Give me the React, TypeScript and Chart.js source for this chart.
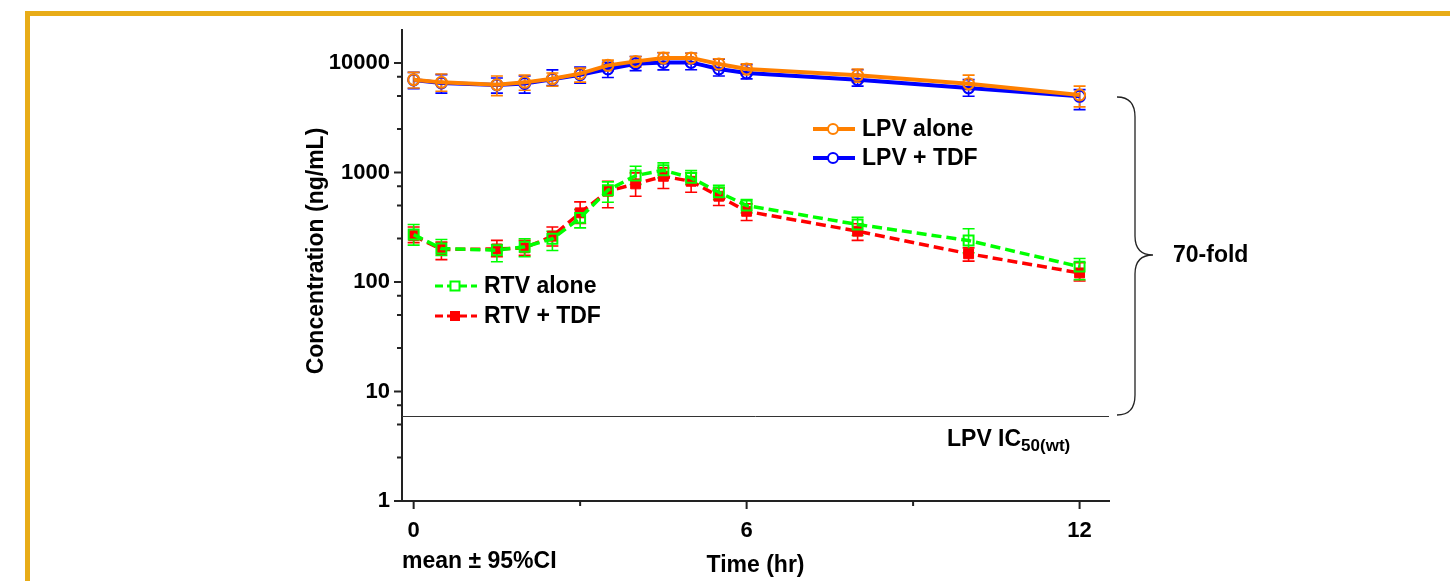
import React, { useEffect, useRef } from 'react';
import { Chart, registerables } from 'chart.js';

Chart.register(...registerables);

const FONT = "'Liberation Sans', Arial, Helvetica, sans-serif";

// Time points (hr)
const times = [0, 0.5, 1.5, 2, 2.5, 3, 3.5, 4, 4.5, 5, 5.5, 6, 8, 10, 12];

// LPV alone
const lpvAlone = [7040, 6650, 6340, 6650, 7190, 7990, 9510, 10340, 11120, 11120, 9790, 8820, 7710, 6470, 5100];
const lpvAloneLo = [5900, 5510, 5030, 5630, 6140, 6690, 8520, 9170, 9850, 9850, 8650, 7820, 6690, 5710, 3970];
const lpvAloneHi = [8200, 7940, 7600, 7760, 8110, 8980, 10610, 11470, 12460, 12270, 10930, 9850, 8820, 7750, 6140];

// LPV + TDF
const lpvTdf = [7000, 6570, 6300, 6500, 7100, 7820, 8820, 9850, 10120, 10120, 8820, 8110, 7040, 5920, 4960];
const lpvTdfLo = [5830, 5300, 5300, 5300, 6230, 6530, 7370, 8520, 8650, 8680, 7600, 7160, 6140, 4960, 3750];
const lpvTdfHi = [8210, 7820, 7300, 7600, 8650, 9170, 10160, 11470, 12380, 12270, 10840, 9640, 8680, 7040, 5710];

// RTV alone
const rtvAlone = [271, 202, 195, 210, 248, 385, 688, 937, 1047, 893, 660, 499, 335, 239, 138];
const rtvAloneLo = [217, 175, 153, 170, 194, 312, 535, 776, 893, 776, 566, 428, 266, 185, 105];
const rtvAloneHi = [335, 244, 220, 248, 291, 459, 820, 1140, 1224, 1040, 764, 566, 390, 306, 164];

// RTV + TDF
const rtvTdf = [265, 198, 200, 205, 262, 428, 674, 787, 923, 831, 607, 442, 291, 181, 121];
const rtvTdfLo = [229, 160, 170, 175, 213, 342, 476, 607, 713, 660, 499, 364, 240, 155, 102];
const rtvTdfHi = [318, 231, 240, 240, 318, 539, 831, 991, 1101, 991, 723, 517, 340, 205, 150];

// Axis ticks
const xTicks = [0, 3, 6, 9, 12];
const xLabelled = [0, 6, 12];
const yMajor = [1, 10, 100, 1000, 10000];
const yMinorMult = [2.5, 5, 7.5];
const ic50Value = 6;

const ORANGE = '#FF8000';
const BLUE = '#0000FF';
const GREEN = '#00FF00';
const RED = '#FF0000';

const errLo = [lpvAloneLo, lpvTdfLo, rtvAloneLo, rtvTdfLo];
const errHi = [lpvAloneHi, lpvTdfHi, rtvAloneHi, rtvTdfHi];
const colors = [ORANGE, BLUE, GREEN, RED];

function pts(vals: number[]) {
  return times.map((t, i) => ({ x: t, y: vals[i] }));
}

export default function App() {
  const ref = useRef<HTMLCanvasElement | null>(null);

  useEffect(() => {
    if (!ref.current) return;

    const decor = {
      id: 'decor',
      beforeDraw(chart: any) {
        const ctx = chart.ctx;
        ctx.save();
        ctx.fillStyle = '#FFFFFF';
        ctx.fillRect(0, 0, chart.width, chart.height);
        ctx.fillStyle = '#E8AC18';
        ctx.fillRect(25, 11, chart.width - 25, 5);
        ctx.fillRect(25, 11, 5, chart.height - 11);
        ctx.restore();
      },
      beforeDatasetsDraw(chart: any) {
        const ctx = chart.ctx;
        const xs = chart.scales.x;
        const ys = chart.scales.y;
        ctx.save();
        // IC50 line
        const yy = Math.round(ys.getPixelForValue(ic50Value)) + 0.5;
        ctx.strokeStyle = '#333';
        ctx.lineWidth = 1;
        ctx.beginPath();
        ctx.moveTo(chart.chartArea.left, yy);
        ctx.lineTo(chart.chartArea.right, yy);
        ctx.stroke();
        // error bars (draw in reverse so dataset 0 on top)
        for (let d = 3; d >= 0; d--) {
          ctx.strokeStyle = colors[d];
          ctx.lineWidth = 1.6;
          for (let i = 0; i < times.length; i++) {
            const x = xs.getPixelForValue(times[i]);
            const y1 = ys.getPixelForValue(errLo[d][i]);
            const y2 = ys.getPixelForValue(errHi[d][i]);
            ctx.beginPath();
            ctx.moveTo(x, y1);
            ctx.lineTo(x, y2);
            ctx.moveTo(x - 6, y1);
            ctx.lineTo(x + 6, y1);
            ctx.moveTo(x - 6, y2);
            ctx.lineTo(x + 6, y2);
            ctx.stroke();
          }
        }
        ctx.restore();
      },
      afterDraw(chart: any) {
        const ctx = chart.ctx;
        const xs = chart.scales.x;
        const ys = chart.scales.y;
        const area = chart.chartArea;
        ctx.save();
        // tick marks
        ctx.strokeStyle = '#222';
        ctx.lineWidth = 2;
        ctx.beginPath();
        yMajor.forEach((v) => {
          const y = ys.getPixelForValue(v);
          ctx.moveTo(area.left - 8, y);
          ctx.lineTo(area.left, y);
          if (v < 10000) {
            yMinorMult.forEach((m) => {
              const ym = ys.getPixelForValue(v * m);
              ctx.moveTo(area.left - 5, ym);
              ctx.lineTo(area.left, ym);
            });
          }
        });
        // minor ticks above 10000
        yMinorMult.forEach((m) => {
          const val = 10000 * m;
          if (val <= ys.max) {
            const ym = ys.getPixelForValue(val);
            ctx.moveTo(area.left - 5, ym);
            ctx.lineTo(area.left, ym);
          }
        });
        xTicks.forEach((t) => {
          const x = xs.getPixelForValue(t);
          const len = xLabelled.includes(t) ? 8 : 5;
          ctx.moveTo(x, area.bottom);
          ctx.lineTo(x, area.bottom + len);
        });
        ctx.stroke();

        // Y title
        ctx.fillStyle = '#000';
        ctx.font = `bold 23px ${FONT}`;
        ctx.save();
        ctx.translate(323, 251);
        ctx.rotate(-Math.PI / 2);
        ctx.textAlign = 'center';
        ctx.textBaseline = 'alphabetic';
        ctx.fillText('Concentration (ng/mL)', 0, 0);
        ctx.restore();

        // X title and note
        ctx.textBaseline = 'alphabetic';
        ctx.textAlign = 'center';
        ctx.fillText('Time (hr)', (area.left + area.right) / 2, 572);
        ctx.textAlign = 'left';
        ctx.fillText('mean \u00B1 95%CI', 402, 568);

        // IC50 label
        ctx.font = `bold 23px ${FONT}`;
        ctx.fillText('LPV IC', 947, 446);
        const w = ctx.measureText('LPV IC').width;
        ctx.font = `bold 17px ${FONT}`;
        ctx.fillText('50(wt)', 947 + w, 451);

        // 70-fold
        ctx.font = `bold 23px ${FONT}`;
        ctx.textBaseline = 'middle';
        ctx.fillText('70-fold', 1173, 256);

        // brace
        ctx.strokeStyle = '#222';
        ctx.lineWidth = 1.3;
        ctx.beginPath();
        ctx.moveTo(1117, 97);
        ctx.quadraticCurveTo(1135, 97, 1135, 117);
        ctx.lineTo(1135, 236);
        ctx.quadraticCurveTo(1135, 255, 1153, 255);
        ctx.quadraticCurveTo(1135, 255, 1135, 274);
        ctx.lineTo(1135, 395);
        ctx.quadraticCurveTo(1135, 415, 1117, 415);
        ctx.stroke();

        // legends
        const legend = (
          x0: number, y: number, color: string, dashed: boolean,
          marker: 'circle' | 'openSquare' | 'filledSquare', label: string, lw: number
        ) => {
          ctx.save();
          ctx.strokeStyle = color;
          ctx.lineWidth = lw;
          ctx.setLineDash(dashed ? [8, 4] : []);
          ctx.beginPath();
          ctx.moveTo(x0, y);
          ctx.lineTo(x0 + 42, y);
          ctx.stroke();
          ctx.setLineDash([]);
          const cx = x0 + 20;
          ctx.lineWidth = 2;
          if (marker === 'circle') {
            ctx.fillStyle = '#fff';
            ctx.beginPath();
            ctx.arc(cx, y, 5, 0, Math.PI * 2);
            ctx.fill();
            ctx.stroke();
          } else if (marker === 'openSquare') {
            ctx.fillStyle = '#fff';
            ctx.fillRect(cx - 4.5, y - 4.5, 9, 9);
            ctx.strokeRect(cx - 4.5, y - 4.5, 9, 9);
          } else {
            ctx.fillStyle = color;
            ctx.fillRect(cx - 5, y - 5, 10, 10);
          }
          ctx.fillStyle = '#000';
          ctx.font = `bold 23px ${FONT}`;
          ctx.textAlign = 'left';
          ctx.textBaseline = 'middle';
          ctx.fillText(label, x0 + 49, y + 1);
          ctx.restore();
        };
        legend(813, 129, ORANGE, false, 'circle', 'LPV alone', 4);
        legend(813, 158, BLUE, false, 'circle', 'LPV + TDF', 4);
        legend(435, 286, GREEN, true, 'openSquare', 'RTV alone', 3);
        legend(435, 316, RED, true, 'filledSquare', 'RTV + TDF', 3);

        ctx.restore();
      },
    };

    const chart = new Chart(ref.current, {
      type: 'line',
      data: {
        datasets: [
          {
            label: 'LPV alone',
            data: pts(lpvAlone),
            borderColor: ORANGE,
            backgroundColor: 'rgba(0,0,0,0)',
            borderWidth: 4,
            pointStyle: 'circle',
            pointRadius: 5.5,
            pointBorderWidth: 2,
            pointBorderColor: ORANGE,
            pointBackgroundColor: 'rgba(255,255,255,0)',
            tension: 0,
          },
          {
            label: 'LPV + TDF',
            data: pts(lpvTdf),
            borderColor: BLUE,
            backgroundColor: 'rgba(0,0,0,0)',
            borderWidth: 4,
            pointStyle: 'circle',
            pointRadius: 5.5,
            pointBorderWidth: 2,
            pointBorderColor: BLUE,
            pointBackgroundColor: 'rgba(255,255,255,0)',
            tension: 0,
          },
          {
            label: 'RTV alone',
            data: pts(rtvAlone),
            borderColor: GREEN,
            backgroundColor: 'rgba(0,0,0,0)',
            borderWidth: 3.5,
            borderDash: [10, 5],
            pointStyle: 'rect',
            pointRadius: 7,
            pointBorderWidth: 2,
            pointBorderColor: GREEN,
            pointBackgroundColor: 'rgba(255,255,255,0)',
            tension: 0,
          },
          {
            label: 'RTV + TDF',
            data: pts(rtvTdf),
            borderColor: RED,
            backgroundColor: RED,
            borderWidth: 3.5,
            borderDash: [10, 5],
            pointStyle: 'rect',
            pointRadius: 7,
            pointBorderWidth: 1,
            pointBorderColor: RED,
            pointBackgroundColor: RED,
            tension: 0,
          },
        ],
      },
      options: {
        responsive: false,
        animation: false,
        devicePixelRatio: 1,
        layout: { padding: { left: 302, top: 30, right: 341, bottom: 29 } },
        plugins: {
          legend: { display: false },
          tooltip: { enabled: false },
          title: { display: false },
        },
        scales: {
          x: {
            type: 'linear',
            min: -0.21,
            max: 12.53,
            grid: { display: false },
            border: { display: true, color: '#222', width: 2 },
            afterBuildTicks: (s: any) => {
              s.ticks = xTicks.map((v) => ({ value: v }));
            },
            afterFit: (s: any) => {
              s.height = 51;
            },
            ticks: {
              autoSkip: false,
              maxRotation: 0,
              padding: 9,
              color: '#000',
              font: { family: FONT, size: 22, weight: 'bold' },
              callback: (v: any) => (xLabelled.includes(Number(v)) ? String(v) : ''),
            },
          },
          y: {
            type: 'logarithmic',
            min: 1,
            max: 20000,
            grid: { display: false },
            border: { display: true, color: '#222', width: 2 },
            afterBuildTicks: (s: any) => {
              s.ticks = yMajor.map((v) => ({ value: v }));
            },
            afterFit: (s: any) => {
              s.width = 100;
            },
            ticks: {
              autoSkip: false,
              padding: 4,
              color: '#000',
              font: { family: FONT, size: 22, weight: 'bold' },
              callback: (v: any) => String(v),
            },
          },
        },
      },
      plugins: [decor],
    } as any);

    return () => chart.destroy();
  }, []);

  return (
    <div style={{ position: 'fixed', left: 0, top: 0, width: 1450, height: 581 }}>
      <canvas ref={ref} width={1450} height={581} style={{ width: 1450, height: 581, display: 'block' }} />
    </div>
  );
}
